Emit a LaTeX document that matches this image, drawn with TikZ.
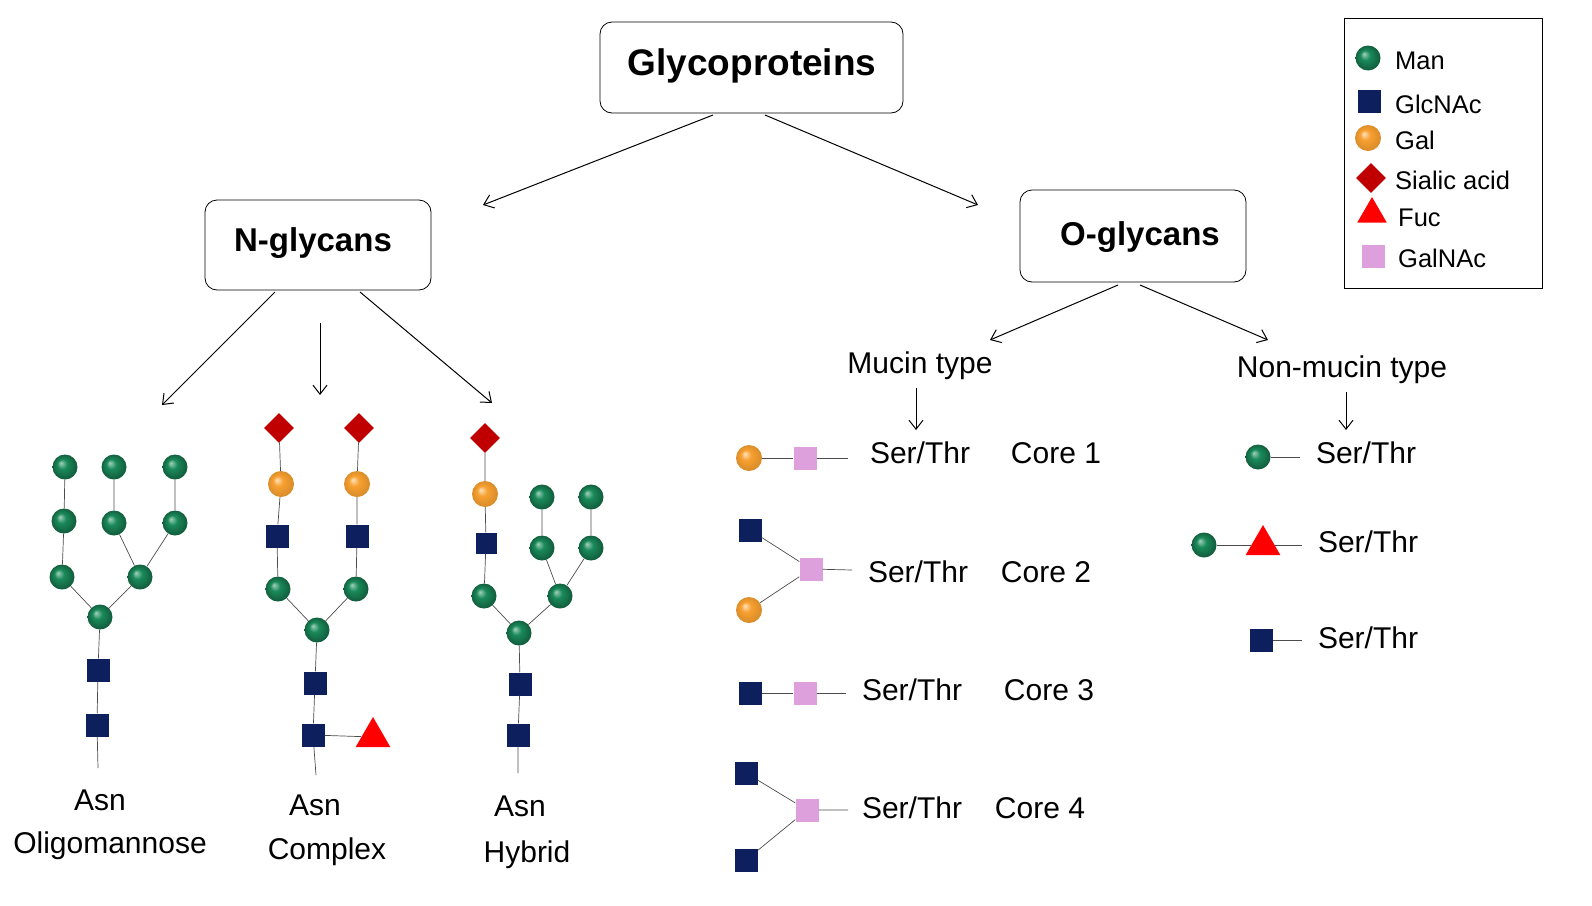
\documentclass[tikz,border=0pt]{standalone}
\usepackage{fontspec}
\setmainfont{Liberation Sans}
\usetikzlibrary{shapes.geometric,arrows.meta}
\definecolor{navy}{HTML}{0D1F5C}
\definecolor{mang}{HTML}{1A8A5A}
\definecolor{galo}{HTML}{F7A030}
\definecolor{sia}{HTML}{C00000}
\definecolor{pnk}{HTML}{DDA0DD}
\pgfdeclareradialshading{galball}{\pgfpoint{-0.3cm}{0.3cm}}{color(0cm)=(galo!30!white); color(0.35cm)=(galo); color(1cm)=(galo!85!black)}
\pgfdeclareradialshading{manball}{\pgfpoint{-0.3cm}{0.3cm}}{color(0cm)=(mang!40!white); color(0.35cm)=(mang); color(1cm)=(mang!60!black)}
\tikzset{
 man/.style={circle,inner sep=0pt,minimum size=25pt,shading=manball,draw=none},
 gal/.style={circle,inner sep=0pt,minimum size=26pt,shading=galball,draw=none},
 glc/.style={rectangle,inner sep=0pt,minimum size=23pt,fill=navy},
 gna/.style={rectangle,inner sep=0pt,minimum size=23pt,fill=pnk},
 sia/.style={diamond,inner sep=0pt,minimum size=30pt,fill=sia},
 fuc/.style={regular polygon,regular polygon sides=3,inner sep=0pt,minimum size=40pt,fill=red},
 box/.style={draw,rounded corners=12pt,line width=0.8pt},
 arr/.style={-{Straight Barb[length=9pt,width=14pt,line width=1pt]},line width=1pt},
 ln/.style={line width=0.7pt,draw=black!70},
 t/.style={font=\fontsize{30}{33}\selectfont,inner sep=0pt},
 lg/.style={font=\fontsize{25.5}{28}\selectfont,anchor=west,inner sep=0pt},
}
\begin{document}
\begin{tikzpicture}[x=1pt,y=-1pt]
\useasboundingbox (0,0) rectangle (1592,905);
% boxes
\draw[box] (600,22) rectangle (903,113);
\node[font=\fontsize{37}{40}\selectfont\bfseries] (gp) at (752,66) {Glycoproteins};
\draw[box] (205,200) rectangle (431,290);
\node[font=\fontsize{33}{36}\selectfont\bfseries] (ng) at (313,243) {N-glycans};
\draw[box] (1020,190) rectangle (1246,282);
\node[font=\fontsize{33}{36}\selectfont\bfseries] (og) at (1140,237) {O-glycans};
% legend
\draw[line width=0.8pt] (1344,18) rectangle (1542,288);
\node[man] (l1) at (1368,58) {}; \node[lg] at (1395,61) {Man};
\node[glc] (l2) at (1369,101) {}; \node[lg] at (1395,104) {GlcNAc};
\node[gal] (l3) at (1368,138) {}; \node[lg] at (1395,140) {Gal};
\node[sia] (l4) at (1371,178) {}; \node[lg] at (1395,180) {Sialic acid};
\node[fuc,minimum size=34pt] (l5) at (1372,214) {}; \node[lg] at (1398,218) {Fuc};
\node[gna] (l6) at (1373,256) {}; \node[lg] at (1398,258) {GalNAc};
% arrows
\coordinate (a1) at (713,115); \coordinate (a2) at (483,205);
\coordinate (a3) at (765,115); \coordinate (a4) at (978,205);
\draw[arr] (a1) -- (a2); \draw[arr] (a3) -- (a4);
\coordinate (b1) at (275,292); \coordinate (b2) at (162,405);
\coordinate (b3) at (320,323); \coordinate (b4) at (320,395);
\coordinate (b5) at (360,292); \coordinate (b6) at (492,403);
\draw[arr] (b1) -- (b2); \draw[arr] (b3) -- (b4); \draw[arr] (b5) -- (b6);
\coordinate (c1) at (1118,285); \coordinate (c2) at (990,340);
\coordinate (c3) at (1140,285); \coordinate (c4) at (1268,340);
\draw[arr] (c1) -- (c2); \draw[arr] (c3) -- (c4);
\node[t] (mt) at (920,366) {Mucin type};
\node[t] (nmt) at (1342,370) {Non-mucin type};
\coordinate (d1) at (916,388); \coordinate (d2) at (916,430);
\coordinate (d3) at (1346,392); \coordinate (d4) at (1346,430);
\draw[arr] (d1) -- (d2); \draw[arr] (d3) -- (d4);
% Oligomannose
\coordinate (o0) at (98,768);
\node[glc] (o1) at (97,725) {}; \node[glc] (o2) at (98,670) {};
\node[man] (o3) at (100,617) {};
\node[man] (o4) at (62,577) {}; \node[man] (o5) at (64,521) {}; \node[man] (o6) at (65,467) {};
\node[man] (o7) at (140,577) {}; \node[man] (o8) at (114,523) {}; \node[man] (o9) at (114,467) {};
\node[man] (o10) at (175,523) {}; \node[man] (o11) at (175,467) {};
\draw[ln] (o0)--(o1) (o1)--(o2) (o2)--(o3) (o3)--(o4) (o4)--(o5) (o5)--(o6) (o3)--(o7) (o7)--(o8) (o8)--(o9) (o7)--(o10) (o10)--(o11);
\node[t] at (100,800) {Asn};
\node[t] at (110,846) {Oligomannose};
% Complex
\coordinate (p0) at (316,775);
\node[glc] (p1) at (313,735) {}; \node[glc] (p2) at (315,683) {};
\node[fuc] (pf) at (373,737) {};
\node[man] (p3) at (317,630) {};
\node[man] (p4) at (278,589) {}; \node[glc] (p5) at (277,536) {}; \node[gal] (p6) at (281,484) {}; \node[sia] (p7) at (279,428) {};
\node[man] (p8) at (356,589) {}; \node[glc] (p9) at (357,536) {}; \node[gal] (p10) at (357,484) {}; \node[sia] (p11) at (359,428) {};
\draw[ln] (p0)--(p1) (p1)--(p2) (p2)--(p3) (p3)--(p4) (p4)--(p5) (p5)--(p6) (p6)--(p7) (p3)--(p8) (p8)--(p9) (p9)--(p10) (p10)--(p11) (p1)--(pf);
\node[t] at (315,805) {Asn};
\node[t] at (327,852) {Complex};
% Hybrid
\coordinate (h0) at (518,773);
\node[glc] (h1) at (518,735) {}; \node[glc] (h2) at (520,684) {};
\node[man] (h3) at (519,633) {};
\node[man] (h4) at (484,596) {}; \node[glc,minimum size=21pt] (h5) at (486,543) {}; \node[gal] (h6) at (485,494) {}; \node[sia] (h7) at (485,438) {};
\node[man] (h8) at (560,596) {}; \node[man] (h9) at (542,548) {}; \node[man] (h10) at (542,497) {};
\node[man] (h11) at (591,548) {}; \node[man] (h12) at (591,497) {};
\draw[ln] (h0)--(h1) (h1)--(h2) (h2)--(h3) (h3)--(h4) (h4)--(h5) (h5)--(h6) (h6)--(h7) (h3)--(h8) (h8)--(h9) (h9)--(h10) (h8)--(h11) (h11)--(h12);
\node[t] at (520,806) {Asn};
\node[t] at (527,855) {Hybrid};
% Mucin cores
\node[gal] (m1a) at (749,458) {}; \node[gna] (m1b) at (805,458) {}; \coordinate (m1c) at (848,458);
\draw[ln] (m1a)--(m1b) (m1b)--(m1c);
\node[t] at (920,453) {Ser/Thr}; \node[t] at (1056,453) {Core 1};
\node[glc] (m2a) at (750,530) {}; \node[gal] (m2b) at (749,610) {}; \node[gna] (m2c) at (811,569) {}; \coordinate (m2d) at (852,570);
\draw[ln] (m2a)--(m2c) (m2b)--(m2c) (m2c)--(m2d);
\node[t] at (918,572) {Ser/Thr}; \node[t] at (1046,572) {Core 2};
\node[glc] (m3a) at (750,693) {}; \node[gna] (m3b) at (805,693) {}; \coordinate (m3c) at (846,693);
\draw[ln] (m3a)--(m3b) (m3b)--(m3c);
\node[t] at (912,690) {Ser/Thr}; \node[t] at (1049,690) {Core 3};
\node[glc] (m4a) at (746,773) {}; \node[glc] (m4b) at (746,860) {}; \node[gna] (m4c) at (807,810) {}; \coordinate (m4d) at (848,810);
\draw[ln] (m4a)--(m4c) (m4b)--(m4c) (m4c)--(m4d);
\node[t] at (912,808) {Ser/Thr}; \node[t] at (1040,808) {Core 4};
% Non-mucin
\node[man] (n1a) at (1258,457) {}; \coordinate (n1b) at (1300,457);
\draw[ln] (n1a)--(n1b);
\node[t] at (1366,453) {Ser/Thr};
\node[man] (n2a) at (1204,545) {}; \node[fuc] (n2b) at (1263,545) {}; \coordinate (n2c) at (1302,545);
\draw[ln] (n2a)--(n2b) (n2b)--(n2c);
\node[t] at (1368,542) {Ser/Thr};
\node[glc] (n3a) at (1261,640) {}; \coordinate (n3b) at (1302,640);
\draw[ln] (n3a)--(n3b);
\node[t] at (1368,638) {Ser/Thr};
\end{tikzpicture}
\end{document}
